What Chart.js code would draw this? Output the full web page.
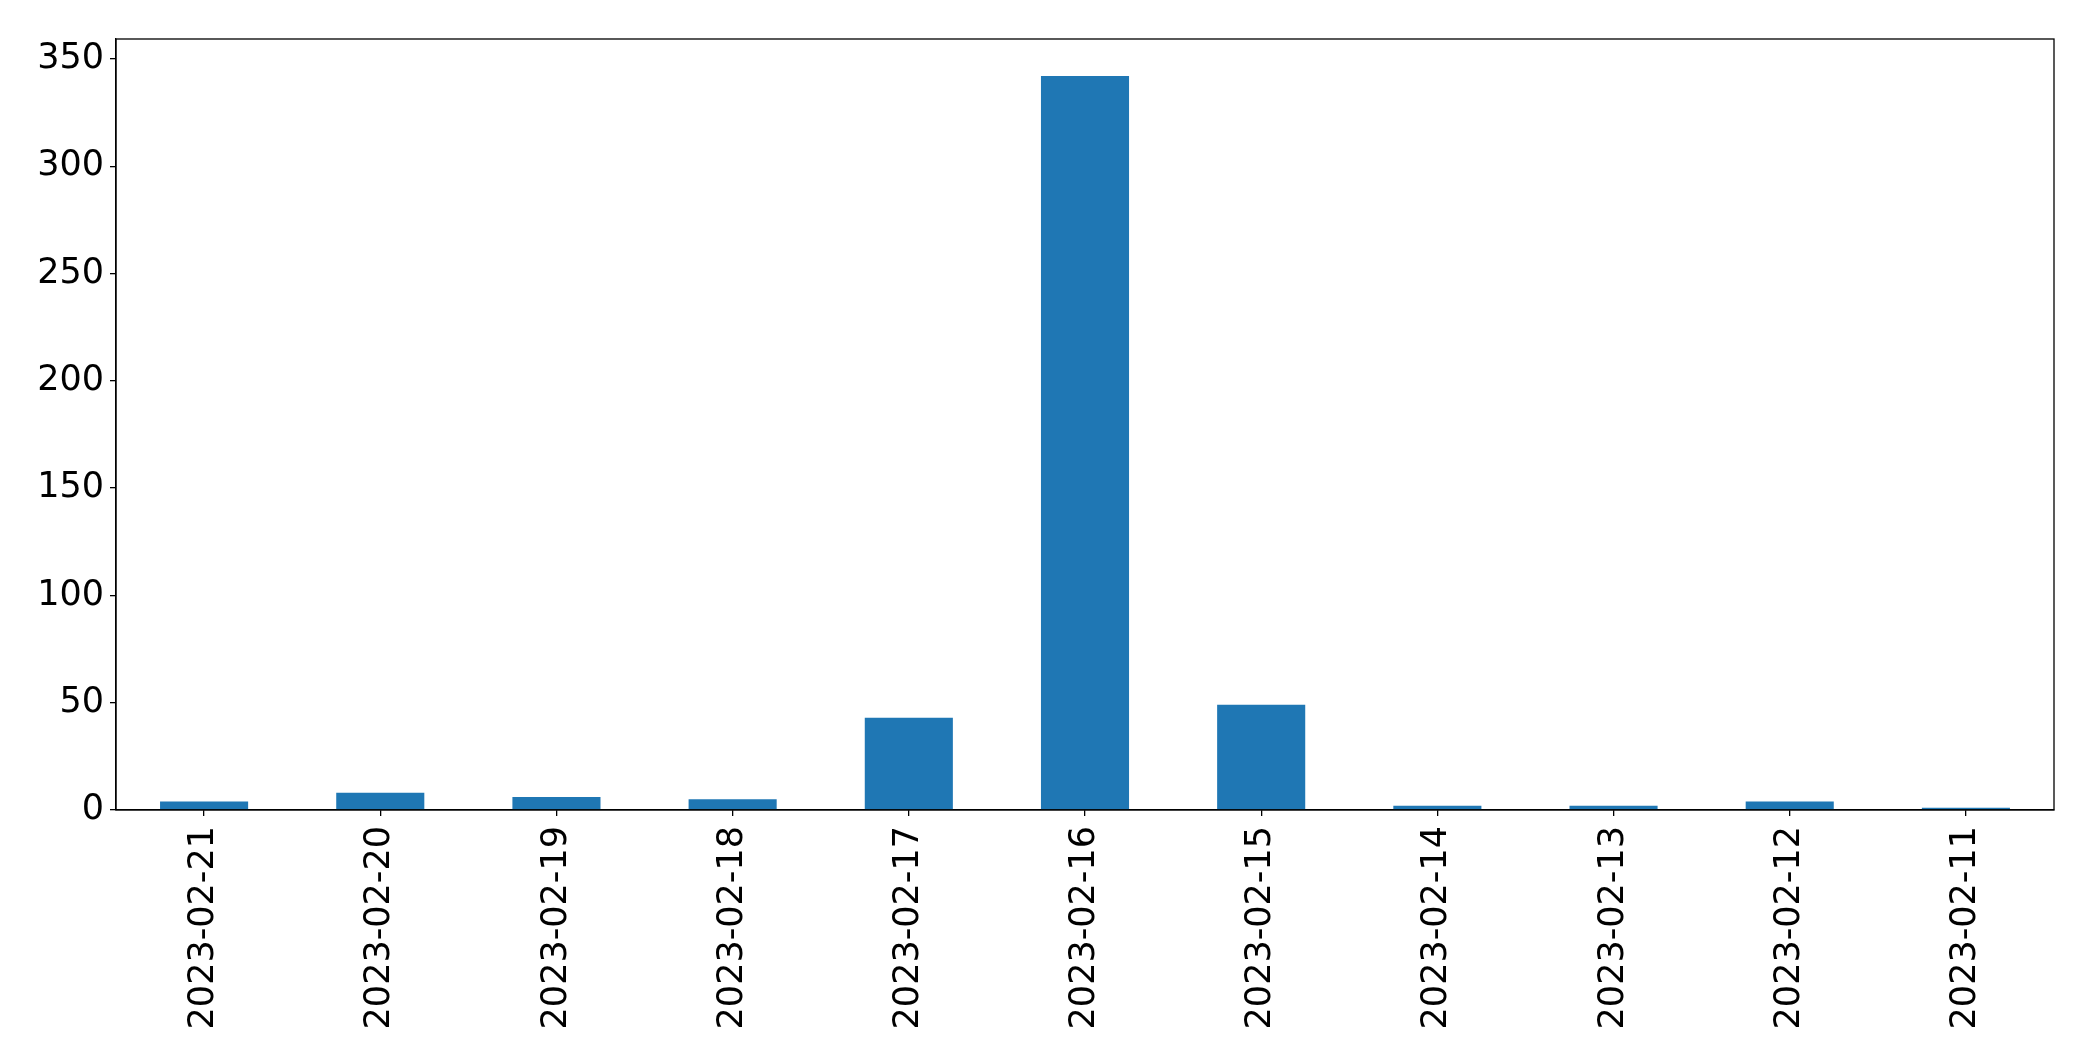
<!DOCTYPE html>
<html>
<head>
<meta charset="utf-8">
<script src="https://cdn.jsdelivr.net/npm/chart.js@4"></script>
<style>
  html, body { margin: 0; padding: 0; background: #fff; }
  #wrap { width: 2093px; height: 1061px; }
</style>
</head>
<body>
<div id="wrap"><canvas id="chart1" width="2093" height="1061"></canvas></div>
<script>
// data
const dates = ['2023-02-21', '2023-02-20', '2023-02-19', '2023-02-18', '2023-02-17',
               '2023-02-16', '2023-02-15', '2023-02-14', '2023-02-13', '2023-02-12', '2023-02-11'];
const counts = [4, 8, 6, 5, 43, 342, 49, 2, 2, 4, 1];
const yTicks = [0, 50, 100, 150, 200, 250, 300, 350];

// matplotlib-like frame around the plot area
const frameBox = {
    id: 'frameBox',
    afterDraw(chart) {
        const a = chart.chartArea;
        const ctx = chart.ctx;
        ctx.save();
        ctx.strokeStyle = '#000';
        ctx.lineWidth = 1.3;
        ctx.strokeRect(a.left, a.top, a.right - a.left, a.bottom - a.top);
        ctx.restore();
    }
};

const ctx = document.getElementById('chart1').getContext('2d');
new Chart(ctx, {
    type: 'bar',
    data: {
        labels: dates,
        datasets: [{
            data: counts,
            backgroundColor: '#1f77b4',
            borderWidth: 0,
            barPercentage: 0.5,
            categoryPercentage: 1.0
        }]
    },
    options: {
        responsive: false,
        animation: false,
        layout: { padding: { top: 39, right: 39, left: 0, bottom: 0 } },
        plugins: { legend: { display: false }, tooltip: { enabled: false } },
        scales: {
            x: {
                offset: true,
                grid: { display: true, offset: false, drawOnChartArea: false, tickLength: 6, color: '#000', lineWidth: 1.3 },
                border: { display: true, color: '#000', width: 1.3 },
                ticks: {
                    color: '#000',
                    font: { family: 'DejaVu Sans', size: 35 },
                    minRotation: 90,
                    maxRotation: 90,
                    padding: 10,
                    autoSkip: false
                },
                afterFit(scale) { scale.height = 251; }
            },
            y: {
                min: 0,
                max: 359.3,
                afterBuildTicks(scale) { scale.ticks = yTicks.map(v => ({ value: v })); },
                grid: { display: true, drawOnChartArea: false, tickLength: 6, color: '#000', lineWidth: 1.3 },
                border: { display: true, color: '#000', width: 1.3 },
                ticks: {
                    color: '#000',
                    font: { family: 'DejaVu Sans', size: 35 },
                    padding: 6
                },
                afterFit(scale) { scale.width = 116; }
            }
        }
    },
    plugins: [frameBox]
});
</script>
</body>
</html>
